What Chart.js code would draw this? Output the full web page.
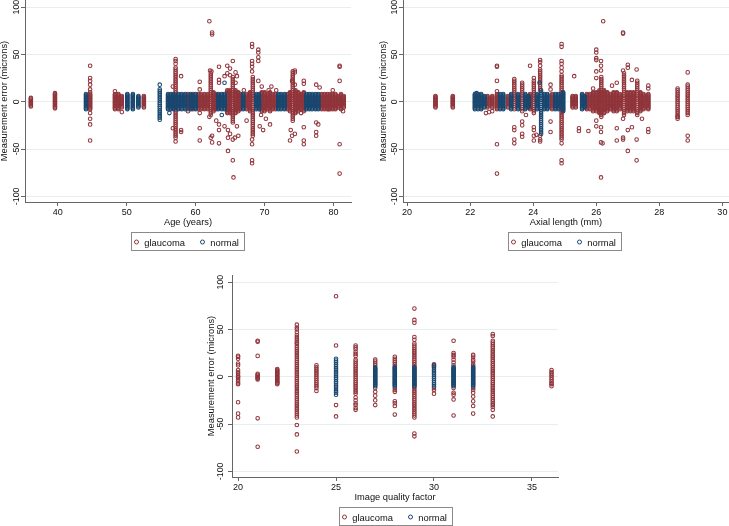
<!DOCTYPE html>
<html>
<head>
<meta charset="UTF-8">
<title>Measurement error by age, axial length and image quality</title>
<script src="https://cdn.jsdelivr.net/npm/chart.js"></script>
<style>
  body { margin: 0; background: #fff; font-family: "Liberation Sans", Arial, Helvetica, sans-serif; }
  #page { position: relative; width: 729px; height: 526px; overflow: hidden; background: #fff; }
  .panel { position: absolute; }
  .legend { position: absolute; width: 114px; height: 19px; border: 1px solid #8a8a8a; box-sizing: border-box; font-size: 9.4px; color: #111; }
  .legend span { position: absolute; top: 50%; transform: translateY(-50%); white-space: nowrap; }
  .legend .dot { width: 3px; height: 3px; border-radius: 50%; border: 1px solid; }
</style>
</head>
<body>
<div id="page">
  <canvas id="ageChart" class="panel" width="365" height="262" style="left:0;top:0"></canvas>
  <canvas id="axialChart" class="panel" width="365" height="262" style="left:364px;top:0"></canvas>
  <canvas id="qualityChart" class="panel" width="380" height="261" style="left:190px;top:265px"></canvas>
  <div id="legendAge" class="legend" style="left:131px;top:232px"></div>
  <div id="legendAxial" class="legend" style="left:508px;top:232px"></div>
  <div id="legendQuality" class="legend" style="left:339px;top:507px"></div>
</div>

<script>
const seriesNames = ["glaucoma", "normal"];
const seriesColors = ["#90353b", "#1a476f"];
const yTicks = [-100, -50, 0, 50, 100];
const ageTicks = [40, 50, 60, 70, 80];
const axialTicks = [20, 22, 24, 26, 28, 30];
const qualityTicks = [20, 25, 30, 35];

// spreads of the solid bands (microns)
const band6 = [-6, -5, -4, -3, -2, -1, 0, 1, 2, 3, 4, 5, 6];
const band8 = [-8, -7, -6, -5, -4, -3, -2, -1, 0, 1, 2, 3, 4, 5, 6, 7, 8];
const band10 = [-10, -9, -8, -7, -6, -5, -4, -3, -2, -1, 0, 1, 2, 3, 4, 5, 6, 7, 8, 9, 10];
const band12 = [-12, -11, -10, -9, -8, -7, -6, -5, -4, -3, -2, -1, 0, 1, 2, 3, 4, 5, 6, 7, 8, 9, 10, 11, 12];

// ---- Age (years) ----
const ageGlaucomaCols = [
  [36.1, [-5, -4, -3, -2, -1, 0, 1, 2, 3, 4]],
  [39.6, [-7, -6, -5, -4, -3, -2, -1, 0, 1, 2, 3, 4, 5, 6, 7, 8, 9]],
  [44.7, band8],
  [48.3, band8], [48.8, band8], [49.3, band6], [52.5, band6],
  [57.1, [-34, -32, -30, -28, -26, -24, -22, -20, -18, -16, -14, -12, -10, -8, -6, -4, -2, 0, 2, 4, 6, 8, 10, 12, 14, 16, 18, 20, 22, 24, 26, 28, 30, 32, 34, 36]],
  [58.9, band8], [59.6, band8], [60.4, band8], [60.8, band8], [61.3, band8], [61.8, band8],
  [62.2, [-14, -12, -10, -8, -6, -4, -2, 0, 2, 4, 6, 8, 10, 12, 14, 16, 18, 20, 22, 24, 26, 28, 30]],
  [62.6, band10], [63.0, band8],
  [64.6, band12], [65.0, band12],
  [65.4, [-22, -20, -18, -16, -14, -12, -10, -8, -6, -4, -2, 0, 2, 4, 6, 8, 10, 12, 14, 16, 18, 20, 22, 24, 26]],
  [65.8, band12], [66.2, band10], [66.5, band8],
  [67.4, band8], [67.9, band10],
  [68.3, [-36, -34, -32, -30, -28, -26, -24, -22, -20, -18, -16, -14, -12, -10, -8, -6, -4, -2, 0, 2, 4, 6, 8, 10, 12, 14, 16, 18, 20, 22, 24, 26]],
  [69.6, band10], [70.0, band10], [70.4, band8], [70.8, band10], [71.2, band8], [71.6, band8],
  [73.3, band8], [73.7, band10],
  [74.1, [-20, -18, -16, -14, -12, -10, -8, -6, -4, -2, 0, 2, 4, 6, 8, 10, 12, 14, 16, 18, 20, 22, 24, 26, 28, 30, 32]],
  [74.5, band12], [74.9, band10], [75.3, band8], [75.7, band10],
  [78.3, band8], [78.7, band8], [79.1, band8], [79.5, band8], [79.9, band8],
  [80.3, band8], [80.7, band6], [81.1, band8], [81.5, band6]
];
const ageGlaucomaOut = [
  [44.7, 38], [44.7, 25], [44.7, 22], [44.7, 18], [44.7, 13], [44.7, 10], [44.7, -12], [44.7, -18], [44.7, -24], [44.7, -41],
  [48.3, 11], [49.3, -11],
  [57.1, 45], [57.1, 43], [57.1, 40], [57.1, -36], [57.1, -38], [57.1, -42], [57.9, 27], [57.9, -30], [57.9, -32], [56.7, 16], [56.7, -28],
  [58.9, -10], [60.6, 21], [60.6, 13], [60.6, -28], [60.6, -41], [60.6, -12],
  [62.0, 85], [62.4, 73], [62.4, 71], [62.1, 33], [62.3, 32], [62.4, -43], [62.2, -38], [62.4, -36], [62.0, -16],
  [63.4, 37], [63.4, 23], [63.4, 20], [63.4, -44], [63.4, -30], [63.4, -24], [63.0, -20],
  [64.6, 38], [64.6, 30], [64.2, 27], [64.7, -52], [64.7, -38], [64.7, -30], [64.2, -26],
  [65.0, 35], [65.0, 28], [65.0, -34], [65.4, 43], [65.4, -62], [65.5, -80], [65.4, -40], [65.7, -38],
  [65.8, 31], [65.8, 20], [66.0, -26], [66.2, -36], [66.0, 27], [67.4, -20], [67.0, 12],
  [68.2, 61], [68.2, 58], [68.2, 43], [68.2, 40], [68.2, 37], [68.2, 32], [68.2, -40], [68.2, -45], [68.2, -62], [68.2, -65],
  [69.1, 55], [69.1, 52], [69.1, 47], [69.1, 43], [69.1, 22], [69.8, -30], [69.6, 16], [69.5, -14], [70.2, -18],
  [70.6, 12], [71.0, 16], [71.7, 12], [70.8, -24], [69.3, -26],
  [73.7, -41], [74.4, 33], [74.4, 31], [74.4, -34], [74.0, 22], [74.4, 18], [73.8, -30], [74.0, -36],
  [75.7, 22], [75.7, 19], [75.7, -45], [75.7, -41], [75.7, -27], [75.3, -12],
  [77.5, -36], [77.5, -32], [77.8, -24], [77.5, 18], [78.0, 15], [77.5, -22],
  [79.9, 12], [80.9, 38], [80.9, 37], [80.9, 22], [80.9, -45], [80.9, -76], [81.4, -10], [79.3, -8]
];
const ageNormalCols = [
  [44.1, band8], [50.1, band8], [50.9, band8], [51.7, band6],
  [54.8, [-19, -17, -15, -13, -11, -9, -7, -5, -3, -1, 1, 3, 5, 7, 9, 11, 13]],
  [56.0, band8], [56.4, band8], [56.8, band8], [57.5, band8], [58.0, band8], [58.5, band8],
  [59.3, band8], [60.0, band8], [63.3, band8], [63.8, band8], [64.2, band8],
  [66.9, band8], [68.8, band8], [69.2, band8], [72.0, band8], [72.4, band8], [72.9, band8],
  [76.1, band8], [76.5, band8], [76.9, band8], [77.4, band8], [77.8, band8]
];
const ageNormalOut = [[54.8, 18], [64.2, 20], [63.8, -14], [56.2, -12]];

// ---- Axial length (mm) ----
const axialGlaucomaCols = [
  [20.9, band6], [21.45, band6],
  [22.55, band6], [22.7, band6], [22.85, band8], [23.2, band6],
  [23.4, [-8, -6, -4, -2, 0, 2, 4, 6, 8, 10, 12, 14, 16, 18, 20, 22, 24]],
  [23.65, [-10, -8, -6, -4, -2, 0, 2, 4, 6, 8, 10, 12, 14, 16, 18, 20]],
  [23.9, band8],
  [24.02, [-12, -10, -8, -6, -4, -2, 0, 2, 4, 6, 8, 10, 12, 14, 16, 18, 20]],
  [24.22, [12, 14, 16, 18, 20, 22, 24, 26, 28, 30, 32, 34]],
  [24.6, band8],
  [24.9, [-40, -38, -36, -34, -32, -30, -28, -26, -24, -22, -20, -18, -16, -14, -12, -10, -8, -6, -4, -2, 0, 2, 4, 6, 8, 10, 12, 14, 16, 18, 20, 22, 24, 26, 28]],
  [25.25, band6], [25.35, band6],
  [25.7, band8], [25.8, band8], [25.9, band10], [26.0, band10], [26.1, band12],
  [26.16, [-16, -14, -12, -10, -8, -6, -4, -2, 0, 2, 4, 6, 8, 10, 12, 14, 16, 18, 20, 22, 24, 26]],
  [26.25, band12], [26.35, band10], [26.45, band8], [26.55, band10], [26.65, band10], [26.75, band8],
  [26.88, [-14, -12, -10, -8, -6, -4, -2, 0, 2, 4, 6, 8, 10, 12, 14, 16, 18, 20, 22, 24, 26, 28, 30]],
  [26.98, band10], [27.08, band10], [27.18, band10],
  [27.3, [-14, -12, -10, -8, -6, -4, -2, 0, 2, 4, 6, 8, 10, 12, 14, 16, 18, 20, 22]],
  [27.4, band10], [27.5, band8], [27.65, band8],
  [28.58, [-18, -16, -14, -12, -10, -8, -6, -4, -2, 0, 2, 4, 6, 8, 10, 12, 14]],
  [28.9, [-14, -12, -10, -8, -6, -4, -2, 0, 2, 4, 6, 8, 10, 12, 14, 16, 18]]
];
const axialGlaucomaOut = [
  [22.85, 38], [22.85, 37], [22.85, 22], [22.85, 11], [22.85, -45], [22.85, -76], [22.6, -11], [22.7, -10], [22.5, -12],
  [23.4, -27], [23.4, -30], [23.4, -40], [23.4, -44],
  [23.65, -21], [23.65, -25], [23.65, -34], [23.65, -37], [23.77, -14],
  [23.9, 38], [24.02, 25], [24.02, 22], [24.02, -27], [24.02, -30], [24.02, -36], [24.02, -41], [24.1, -35],
  [24.22, 44], [24.22, 42], [24.22, 38], [24.22, -36], [24.22, -40], [24.22, -42],
  [24.55, 18], [24.55, 13], [24.55, -21], [24.55, -32],
  [24.9, 61], [24.9, 58], [24.9, 43], [24.9, 40], [24.9, 36], [24.9, 32], [24.9, -44], [24.9, -62], [24.9, -65],
  [25.3, 27], [25.45, -28], [25.45, -31], [25.75, -31], [25.9, 14],
  [26.0, 55], [26.0, 52], [26.0, 46], [26.0, 44], [26.0, 32], [26.0, 25], [26.0, -20], [26.0, -26],
  [26.15, 43], [26.15, 38], [26.15, 33], [26.15, -27], [26.15, -32], [26.15, -43], [26.2, -44], [26.15, -80], [26.22, 85],
  [26.5, 17], [26.65, 20], [26.65, -28], [26.65, -41],
  [26.85, 73], [26.85, 72], [26.85, 33], [26.85, -18], [26.85, -38], [26.85, -40],
  [27.0, 39], [27.0, 36], [27.0, -30], [27.0, -52], [27.13, 23], [27.13, -27],
  [27.28, 34], [27.28, -40], [27.28, -62], [27.45, -18],
  [27.65, 17], [27.65, 14], [27.65, -29], [27.65, -32],
  [28.58, -16], [28.9, 31], [28.9, -36], [28.9, -41]
];
const axialNormalCols = [
  [22.15, band8], [22.25, band8], [22.35, band8], [22.45, band6],
  [22.95, band8], [23.05, band8], [23.3, band8], [23.52, band8], [23.75, band8], [23.85, band6],
  [24.12, band8],
  [24.25, [-34, -32, -30, -28, -26, -24, -22, -20, -18, -16, -14, -12, -10, -8, -6, -4, -2, 0, 2, 4, 6, 8, 10, 12]],
  [24.35, band8], [24.45, band8], [24.7, band8], [24.8, band8], [24.95, band10],
  [25.55, band8], [25.63, band6]
];
const axialNormalOut = [[22.2, 9], [24.2, 20]];

// ---- Image quality factor ----
const qualityGlaucomaCols = [
  [20, [22, 21, 19, 14, 12, 7, 5, 3, 1, 0, -1, -3, -5, -7, -8, -27, -39, -43]],
  [21, [38, 37, 22, 3, 2, 1, 0, -1, -2, -3, -44, -74]],
  [22, band8],
  [23, [55, 52, 50, 47, 44, 42, 40, 38, 36, 35, 33, 31, 29, 27, 25, 23, 21, 19, 17, 15, 13, 11, 9, 7, 5, 3, 1, -1, -3, -5, -7, -9, -11, -13, -15, -17, -19, -21, -23, -25, -27, -29, -31, -33, -35, -37, -39, -41, -43, -51, -61, -79]],
  [24, [12, 10, 8, 6, 4, 2, 0, -2, -4, -6, -8, -10, -12, -15]],
  [25, [85, 33, -30, -42]],
  [26, [33, 31, 29, 26, 24, 22, 18, 16, 14, 12, 10, 8, 6, 4, 2, 0, -2, -4, -6, -8, -10, -12, -14, -16, -18, -22, -25, -28, -30, -33, -35]],
  [27, [18, 16, 14, 12, -12, -16, -20, -25, -30]],
  [28, [21, 19, 17, 15, 13, 11, -12, -14, -16, -26, -28, -31, -40]],
  [29, [72, 60, 57, 42, 39, 35, 33, 31, 29, 27, 25, 23, 21, 19, 17, 15, 13, 11, -11, -13, -15, -17, -19, -21, -23, -25, -27, -29, -31, -33, -35, -37, -39, -41, -43, -60, -63]],
  [30, [13, 11, -12, -14, -18]],
  [31, [38, 25, 23, 21, 18, 15, 12, -12, -17, -19, -24, -41]],
  [32, [23, 21, 18, 16, 13, 11, -12, -14, -17, -21, -26, -31, -39]],
  [33, [45, 43, 38, 36, 34, 32, 30, 28, 26, 24, 22, 20, 18, 16, 14, 12, 10, 8, 6, 4, 2, 0, -2, -4, -6, -8, -10, -12, -14, -16, -18, -20, -22, -24, -26, -28, -30, -32, -35, -42]],
  [36, [7, 5, 3, 1, -1, -3, -5, -7, -8, -10]]
];
const qualityNormalCols = [
  [25, [19, 17, 15, 13, 11, 9, 7, 5, 3, 1, -1, -3, -5, -7, -9, -11, -13, -15, -17, -19]],
  [27, band10], [28, band10], [29, band10],
  [30, [12, 10, 8, 6, 4, 2, 0, -2, -4, -6, -8, -10]],
  [31, band10], [32, band10]
];

const family = '"Liberation Sans", Arial, Helvetica, sans-serif';

function toPoints(cols, extra) {
  const pts = [];
  cols.forEach(([x, ys]) => ys.forEach(y => pts.push({ x: x, y: y })));
  (extra || []).forEach(([x, y]) => pts.push({ x: x, y: y }));
  return pts;
}

// rotated y labels and axis titles, placed with the chart's own scales
const stataText = {
  id: "stataText",
  afterDraw(chart, args, o) {
    const ctx = chart.ctx, a = chart.chartArea, ys = chart.scales.y;
    ctx.save();
    ctx.fillStyle = "#111";
    ctx.textAlign = "center";
    ctx.textBaseline = "middle";
    ctx.font = "8.8px " + family;
    yTicks.forEach(v => {
      ctx.save();
      ctx.translate(a.left - o.tickGap, ys.getPixelForValue(v));
      ctx.rotate(-Math.PI / 2);
      ctx.fillText(String(v), 0, 0);
      ctx.restore();
    });
    ctx.font = "9.3px " + family;
    ctx.save();
    ctx.translate(a.left - o.titleGap, (a.top + a.bottom) / 2);
    ctx.rotate(-Math.PI / 2);
    ctx.fillText(o.yTitle, 0, 0);
    ctx.restore();
    ctx.fillText(o.xTitle, (a.left + a.right) / 2, a.bottom + 20.5);
    ctx.restore();
  }
};

function makeChart(id, c) {
  return new Chart(document.getElementById(id), {
    type: "scatter",
    data: {
      datasets: [
        { label: seriesNames[0], data: c.glaucoma, borderColor: seriesColors[0], order: 1 },
        { label: seriesNames[1], data: c.normal, borderColor: seriesColors[1], order: 0 }
      ]
    },
    options: {
      responsive: false,
      animation: false,
      events: [],
      layout: { autoPadding: false, padding: { top: c.padTop, right: c.padRight, left: 0, bottom: 0 } },
      elements: { point: { radius: 1.8, borderWidth: 1.05, backgroundColor: "rgba(0,0,0,0)", pointStyle: "circle" } },
      plugins: {
        legend: { display: false },
        tooltip: { enabled: false },
        stataText: { yTitle: "Measurement error (microns)", xTitle: c.xTitle, tickGap: c.tickGap, titleGap: c.titleGap }
      },
      scales: {
        x: {
          type: "linear",
          min: c.xMin,
          max: c.xMax,
          afterBuildTicks: s => { s.ticks = c.xTicks.map(v => ({ value: v })); },
          afterFit: s => { s.height = c.xHeight; s.paddingLeft = 0; s.paddingRight = 0; },
          grid: { drawOnChartArea: false, tickLength: 4, tickColor: "#666", color: "#666" },
          border: { color: "#666", width: 1 },
          ticks: { color: "#111", font: { size: 9, family: family }, padding: 1, maxRotation: 0, autoSkip: false }
        },
        y: {
          type: "linear",
          min: -106,
          max: 107.5,
          afterBuildTicks: s => { s.ticks = yTicks.map(v => ({ value: v })); },
          afterFit: s => { s.width = c.yWidth; s.paddingTop = 0; s.paddingBottom = 0; },
          grid: { color: "#e6eef0", tickColor: "#666", tickLength: 4, lineWidth: 1 },
          border: { color: "#666", width: 1 },
          ticks: { display: false }
        }
      }
    },
    plugins: [stataText]
  });
}

function buildLegend(id) {
  const box = document.getElementById(id);
  const markLeft = [2, 68], textLeft = [12.3, 78.3];
  seriesNames.forEach((name, i) => {
    const dot = document.createElement("span");
    dot.className = "dot";
    dot.style.left = markLeft[i] + "px";
    dot.style.borderColor = seriesColors[i];
    const txt = document.createElement("span");
    txt.textContent = name;
    txt.style.left = textLeft[i] + "px";
    box.append(dot, txt);
  });
}

makeChart("ageChart", {
  glaucoma: toPoints(ageGlaucomaCols, ageGlaucomaOut),
  normal: toPoints(ageNormalCols, ageNormalOut),
  xMin: 35.25, xMax: 82.55, xTicks: ageTicks, xTitle: "Age (years)",
  padTop: 0, padRight: 14, xHeight: 60, yWidth: 25, tickGap: 8.5, titleGap: 21
});
makeChart("axialChart", {
  glaucoma: toPoints(axialGlaucomaCols, axialGlaucomaOut),
  normal: toPoints(axialNormalCols, axialNormalOut),
  xMin: 19.87, xMax: 30.21, xTicks: axialTicks, xTitle: "Axial length (mm)",
  padTop: 0, padRight: 0, xHeight: 60, yWidth: 39, tickGap: 8, titleGap: 20
});
makeChart("qualityChart", {
  glaucoma: toPoints(qualityGlaucomaCols),
  normal: toPoints(qualityNormalCols),
  xMin: 19.69, xMax: 36.33, xTicks: qualityTicks, xTitle: "Image quality factor",
  padTop: 10, padRight: 12, xHeight: 49, yWidth: 42, tickGap: 11, titleGap: 20.5
});

buildLegend("legendAge");
buildLegend("legendAxial");
buildLegend("legendQuality");
</script>
</body>
</html>
